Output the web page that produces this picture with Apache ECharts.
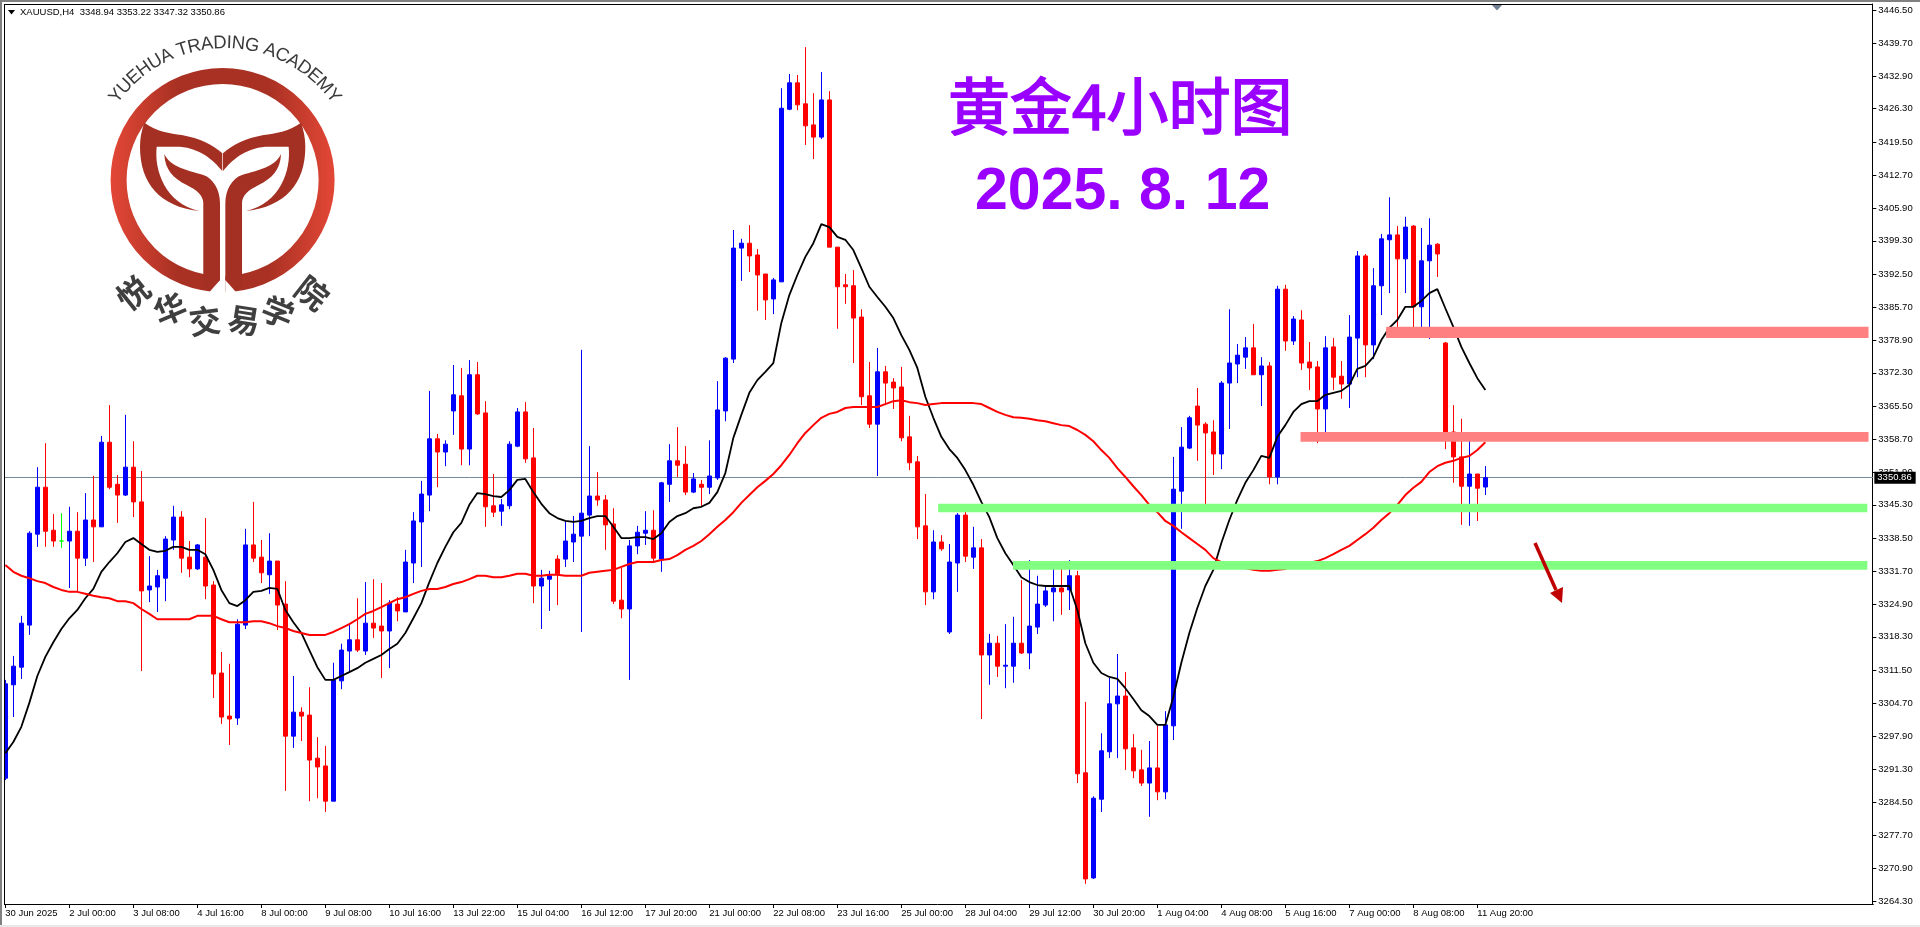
<!DOCTYPE html>
<html><head><meta charset="utf-8">
<style>html,body{margin:0;padding:0;background:#fff}#c{width:1920px;height:927px}</style>
<script src="https://cdn.jsdelivr.net/npm/echarts@6/dist/echarts.min.js"></script>
</head><body><div id="c"></div>
<script>
const tickLabels=['30 Jun 2025','2 Jul 00:00','3 Jul 08:00','4 Jul 16:00','8 Jul 00:00','9 Jul 08:00','10 Jul 16:00','13 Jul 22:00','15 Jul 04:00','16 Jul 12:00','17 Jul 20:00','21 Jul 00:00','22 Jul 08:00','23 Jul 16:00','25 Jul 00:00','28 Jul 04:00','29 Jul 12:00','30 Jul 20:00','1 Aug 04:00','4 Aug 08:00','5 Aug 16:00','7 Aug 00:00','8 Aug 08:00','11 Aug 20:00'];
const priceTicks=[3446.5,3439.7,3432.9,3426.3,3419.5,3412.7,3405.9,3399.3,3392.5,3385.7,3378.9,3372.3,3365.5,3358.7,3351.9,3345.3,3338.5,3331.7,3324.9,3318.3,3311.5,3304.7,3297.9,3291.3,3284.5,3277.7,3270.9,3264.3];
const opens=[3289.4,3308.5,3312.1,3320.7,3339.3,3348.9,3340.1,3337.9,3337.9,3339.9,
3334.4,3342.2,3340.8,3358.1,3349.5,3347.3,3353.0,3345.9,3327.9,3328.5,
3330.3,3338.1,3342.8,3334.6,3332.2,3334.6,3328.9,3310.9,3302.1,3301.7,
3320.7,3337.1,3334.6,3331.0,3333.8,3325.0,3298.0,3302.9,3302.3,3293.5,
3291.9,3284.7,3309.3,3315.4,3317.7,3315.4,3321.1,3320.5,3319.5,3325.0,
3323.4,3333.4,3341.8,3347.3,3358.8,3356.1,3364.5,3367.6,3356.7,3371.9,
3364.1,3345.1,3344.0,3345.1,3357.3,3364.3,3354.9,3328.7,3330.1,3334.2,
3334.2,3337.7,3338.9,3343.2,3347.1,3346.3,3341.4,3325.8,3324.0,3336.9,
3339.5,3340.1,3334.2,3349.5,3354.3,3353.6,3347.9,3349.5,3348.9,3350.8,
3364.5,3375.1,3397.8,3398.8,3396.4,3392.5,3387.4,3390.9,3426.2,3431.6,
3427.3,3423.0,3420.5,3428.1,3398.0,3390.3,3390.1,3383.7,3367.6,3361.8,
3372.5,3370.4,3369.4,3359.2,3354.1,3341.0,3327.5,3337.7,3319.3,3333.4,
3343.2,3334.6,3336.5,3314.6,3317.0,3312.3,3312.3,3317.0,3315.0,3320.3,
3324.8,3327.5,3328.3,3327.9,3330.8,3290.5,3269.0,3285.1,3294.8,3304.6,
3306.2,3295.6,3291.1,3288.4,3291.5,3286.6,3300.1,3348.1,3356.9,3365.5,
3361.8,3360.2,3355.7,3370.2,3374.1,3375.5,3377.4,3371.9,3373.7,3351.0,
3389.4,3378.8,3383.1,3374.5,3373.5,3364.9,3377.6,3371.6,3370.0,3379.4,
3396.2,3378.0,3390.1,3399.5,3400.5,3395.6,3402.3,3385.8,3395.2,3398.6,
3378.4,3360.2,3355.1,3349.1,3351.6,3348.94];
const closes=[3308.7,3312.3,3321.1,3339.5,3348.9,3339.9,3337.9,3337.9,3339.9,3334.4,
3342.2,3340.8,3358.1,3348.9,3347.3,3353.0,3345.9,3327.7,3328.7,3330.8,
3338.3,3342.8,3334.4,3332.2,3337.1,3328.7,3310.7,3301.9,3301.5,3320.9,
3337.1,3334.4,3331.4,3333.8,3324.8,3298.0,3302.9,3302.1,3293.1,3291.7,
3284.7,3309.5,3315.6,3317.7,3315.6,3321.1,3320.1,3319.5,3325.2,3323.6,
3333.6,3342.0,3347.5,3358.8,3356.1,3357.7,3367.8,3356.7,3371.9,3363.9,
3344.9,3343.8,3345.3,3357.7,3364.3,3354.7,3328.7,3330.3,3330.8,3331.2,
3337.9,3339.3,3343.6,3347.1,3346.3,3341.2,3325.6,3324.0,3336.9,3339.7,
3340.1,3334.4,3349.8,3354.3,3353.4,3347.9,3350.6,3348.9,3351.2,3364.7,
3375.3,3397.8,3398.8,3396.2,3392.3,3387.2,3391.3,3426.4,3431.6,3427.1,
3422.8,3420.5,3428.1,3398.0,3389.9,3389.9,3383.5,3367.4,3361.8,3372.5,
3370.2,3369.2,3359.0,3353.9,3340.8,3327.5,3337.7,3336.3,3333.6,3343.2,
3334.8,3336.5,3314.6,3317.0,3312.3,3312.5,3317.0,3315.0,3320.5,3325.0,
3327.7,3328.3,3327.5,3330.8,3290.3,3268.8,3285.3,3295.0,3304.6,3306.2,
3295.4,3290.9,3288.4,3291.5,3286.6,3300.3,3348.5,3357.1,3363.1,3361.6,
3360.0,3355.7,3370.2,3374.3,3375.9,3377.4,3371.9,3373.7,3351.0,3389.4,
3378.8,3383.3,3374.3,3373.3,3364.9,3377.4,3371.4,3370.0,3379.6,3396.2,
3378.0,3390.1,3399.7,3400.5,3395.6,3402.1,3385.8,3395.2,3398.4,3396.6,
3360.0,3355.1,3349.1,3351.6,3348.7,3350.86];
const lows=[3289.0,3301.9,3309.7,3318.7,3336.7,3336.7,3336.7,3336.5,3328.3,3327.5,
3332.8,3333.6,3340.8,3348.5,3341.6,3347.1,3342.8,3311.3,3325.4,3323.4,
3325.6,3336.1,3331.4,3330.5,3332.0,3326.0,3305.8,3300.5,3296.2,3300.3,
3319.9,3333.6,3329.3,3327.1,3319.7,3286.8,3295.6,3297.0,3284.7,3285.3,
3282.5,3284.7,3307.6,3310.9,3315.2,3314.6,3318.1,3309.9,3311.9,3321.5,
3323.4,3329.3,3332.6,3344.0,3348.9,3353.2,3359.6,3353.4,3353.4,3363.7,
3340.8,3342.8,3341.0,3344.4,3357.1,3353.9,3325.2,3319.9,3323.6,3324.8,
3332.6,3333.6,3319.3,3338.9,3345.1,3336.1,3325.0,3322.1,3309.5,3335.2,
3337.1,3333.8,3331.6,3345.9,3351.0,3347.3,3347.7,3345.1,3347.5,3350.4,
3362.4,3374.3,3391.1,3392.9,3385.0,3383.1,3384.3,3390.9,3426.0,3426.0,
3418.9,3416.0,3420.1,3398.0,3381.3,3386.4,3374.3,3365.7,3361.0,3351.2,
3365.7,3364.9,3358.3,3352.4,3338.3,3324.8,3326.0,3335.9,3318.9,3327.5,
3333.6,3332.2,3301.5,3308.5,3310.1,3307.8,3308.9,3314.8,3311.7,3318.9,
3324.4,3321.5,3322.8,3323.8,3288.4,3267.8,3268.8,3282.5,3293.5,3293.5,
3291.1,3289.4,3287.8,3281.5,3284.9,3285.1,3297.2,3340.4,3356.7,3354.3,
3344.9,3351.4,3352.6,3360.8,3370.2,3373.1,3371.9,3365.5,3349.5,3349.5,
3376.8,3378.0,3372.9,3368.8,3357.9,3360.0,3368.8,3367.0,3365.1,3371.4,
3371.4,3375.1,3384.1,3388.6,3380.9,3388.6,3380.2,3380.9,3379.2,3391.9,
3356.7,3349.8,3341.2,3341.0,3342.0,3347.32];
const highs=[3309.5,3314.4,3322.6,3339.9,3353.0,3357.9,3343.4,3343.6,3344.9,3343.8,
3347.7,3351.2,3359.4,3365.7,3351.4,3363.7,3358.3,3352.2,3334.8,3332.0,
3338.9,3345.1,3344.0,3337.9,3337.3,3342.6,3329.7,3315.2,3312.8,3321.9,
3340.4,3345.9,3338.1,3339.5,3333.8,3329.7,3310.3,3303.9,3308.0,3297.8,
3296.0,3313.0,3316.9,3320.7,3326.2,3329.5,3330.1,3329.3,3325.8,3326.4,
3336.1,3343.8,3350.2,3368.6,3359.8,3358.5,3373.9,3373.3,3374.9,3374.5,
3366.5,3351.6,3346.5,3358.3,3365.1,3366.3,3361.0,3332.0,3331.8,3335.0,
3342.0,3343.0,3377.0,3357.3,3352.0,3347.3,3344.6,3332.4,3338.1,3341.0,
3344.0,3344.2,3350.0,3357.7,3361.2,3357.3,3351.8,3350.4,3358.5,3370.6,
3375.5,3401.5,3399.7,3402.5,3397.6,3392.5,3391.7,3430.5,3433.4,3433.2,
3438.9,3429.5,3433.8,3429.9,3398.0,3392.5,3393.3,3385.3,3374.5,3377.4,
3373.7,3371.2,3373.5,3363.5,3355.3,3347.5,3340.1,3339.1,3337.3,3343.6,
3345.3,3340.8,3338.3,3318.9,3318.5,3320.9,3322.4,3329.9,3334.0,3330.8,
3328.9,3333.6,3332.2,3334.0,3331.8,3305.0,3285.7,3298.6,3309.9,3314.8,
3311.1,3298.4,3295.2,3297.0,3300.1,3303.1,3355.1,3361.2,3363.5,3369.2,
3362.2,3362.6,3370.6,3385.3,3378.2,3379.6,3382.3,3375.5,3374.5,3390.1,
3390.3,3383.9,3385.1,3378.6,3374.7,3379.8,3379.4,3374.7,3384.1,3397.2,
3396.6,3393.7,3400.7,3408.2,3402.3,3404.2,3402.5,3401.9,3403.9,3398.8,
3378.6,3365.7,3362.9,3358.8,3351.6,3353.22];
const maFast=[3294.5,3296.8,3299.9,3304.8,3310.3,3314.2,3317.2,3319.9,3322.1,3323.8,
3326.2,3328.1,3331.6,3333.6,3335.4,3337.7,3338.5,3337.3,3336.1,3335.7,
3335.9,3336.7,3336.7,3336.1,3336.1,3335.2,3332.0,3327.9,3325.2,3324.6,
3325.8,3327.5,3327.7,3328.3,3328.1,3323.8,3321.3,3319.1,3315.6,3312.1,
3309.5,3309.5,3310.3,3311.1,3311.9,3313.0,3313.8,3314.6,3315.8,3316.9,
3319.1,3322.1,3325.2,3329.5,3333.4,3336.7,3339.7,3341.6,3345.3,3347.7,
3347.5,3347.1,3346.9,3348.3,3350.4,3350.6,3347.9,3345.5,3343.6,3342.6,
3342.0,3341.8,3342.0,3342.6,3343.0,3343.0,3340.8,3338.5,3338.5,3338.7,
3338.7,3338.3,3339.5,3341.8,3343.0,3343.6,3344.6,3344.9,3345.7,3347.9,
3351.8,3359.0,3363.7,3368.2,3370.8,3372.5,3374.3,3382.5,3388.2,3392.3,
3396.0,3398.8,3402.7,3402.1,3400.1,3399.5,3397.4,3393.7,3389.9,3387.8,
3385.8,3383.5,3380.0,3377.0,3373.3,3367.4,3363.1,3359.2,3356.7,3354.9,
3352.4,3349.4,3345.9,3342.8,3338.5,3335.4,3333.0,3330.5,3329.5,3328.9,
3328.7,3328.7,3328.7,3328.7,3323.8,3317.0,3313.0,3310.9,3310.1,3309.7,
3307.8,3305.6,3303.3,3302.1,3300.3,3300.3,3306.0,3313.0,3319.1,3324.2,
3328.7,3332.0,3337.5,3342.2,3346.3,3349.8,3352.4,3355.3,3354.9,3359.2,
3361.6,3364.3,3365.9,3366.5,3366.5,3367.8,3368.2,3368.6,3369.8,3373.1,
3373.7,3375.5,3379.0,3381.5,3383.1,3385.8,3385.8,3387.0,3388.6,3389.4,
3385.5,3381.7,3377.6,3374.3,3371.2,3368.8];
const maSlow=[3333.0,3331.6,3330.8,3330.3,3329.7,3329.3,3328.5,3327.9,3327.5,3327.5,
3327.1,3326.7,3326.4,3326.2,3325.6,3325.6,3325.2,3324.0,3323.0,3321.9,
3321.9,3321.9,3321.9,3321.9,3322.6,3322.6,3322.6,3321.9,3321.3,3321.3,
3321.3,3321.5,3321.5,3321.1,3320.5,3320.1,3319.5,3319.1,3318.7,3318.7,
3318.7,3319.3,3320.1,3320.9,3321.9,3323.0,3323.6,3324.4,3325.2,3326.0,
3326.4,3327.1,3327.7,3328.1,3328.1,3328.5,3329.1,3329.5,3330.1,3330.8,
3330.8,3330.5,3330.5,3330.8,3331.2,3331.2,3330.8,3330.8,3331.0,3331.0,
3330.8,3330.8,3330.8,3331.4,3331.6,3331.8,3332.0,3332.6,3333.2,3333.6,
3333.6,3333.6,3334.0,3334.2,3335.0,3336.1,3336.9,3337.9,3339.3,3340.8,
3342.2,3343.8,3345.7,3347.3,3348.9,3350.2,3351.6,3353.4,3355.5,3357.9,
3360.0,3361.6,3363.1,3363.9,3364.3,3365.1,3365.3,3365.3,3365.3,3365.3,
3365.9,3366.5,3366.7,3366.3,3366.1,3365.7,3365.9,3366.1,3366.1,3366.1,
3366.1,3366.1,3365.9,3365.1,3364.3,3363.7,3363.2,3363.1,3362.9,3362.6,
3362.4,3362.0,3361.6,3361.4,3360.6,3359.6,3358.3,3356.5,3354.9,3352.8,
3351.0,3349.1,3347.3,3345.3,3343.8,3342.0,3341.0,3339.7,3338.5,3337.3,
3336.1,3334.4,3333.6,3332.8,3332.6,3332.4,3332.0,3331.8,3331.8,3332.0,
3332.2,3332.8,3333.0,3333.4,3333.8,3334.4,3335.2,3336.1,3336.9,3338.1,
3339.3,3340.6,3342.2,3343.6,3345.3,3347.3,3348.8,3350.0,3352.0,3353.2,
3353.9,3354.3,3354.9,3355.3,3356.5,3358.1];
const lastPrice=3350.86;
// horizontal zones: bar position where each starts / ends, and price band
const zoneStart=[172.6,161.9,116.6,125.96];
const zoneEnd=[232.9,232.9,232.75,232.75];
const zoneHigh=[3381.7,3360.2,3345.5,3333.8];
const zoneLow=[3379.4,3358.2,3343.8,3332.0];
const zoneColor=['#FF8080','#FF8080','#80FF80','#80FF80'];

const AXISFONT='"Liberation Sans",sans-serif';
const slotCount=234;
const categories=Array.from({length:slotCount},(_,i)=>i%8===0&&tickLabels[i/8]?tickLabels[i/8]:'');
const showTick=i=>i%8===0&&i/8<tickLabels.length;
const candles=opens.map((o,i)=>[o,closes[i],lows[i],highs[i]]);

// logo helpers
const LOGO='#A33022';
const ringGrad={type:'linear',x:0,y:0,x2:1,y2:0,colorStops:[{offset:0,color:'#E34736'},{offset:.3,color:'#A83123'},{offset:.7,color:'#A83123'},{offset:1,color:'#E34736'}]};
const wing='M144.3 122.7C156.7 131.7 170 133.3 181.7 135C200 138.3 213.3 145 222.3 153.3L222.3 171C213.3 160 200 148.3 180 146.7L156.7 146.7C154 170 165 203.3 199.3 211C160 206.7 140 183.3 140 146.7C140 138.3 141.7 130 144.3 122.7Z';
const leaf='M164.3 154C170 166.7 186.7 170 203.3 175C213.3 178.3 220 190 220 203.3L220 280L208.3 291L203.3 285L203.3 203.3C203.3 195 196.7 190 186.7 185C173.3 178.3 165 170 164.3 154Z';
echarts.graphic.registerShape('logoWing',echarts.graphic.extendPath(wing,{}));
echarts.graphic.registerShape('logoLeaf',echarts.graphic.extendPath(leaf,{}));
const logoEls=[
 {type:'circle',shape:{cx:222.6,cy:180,r:104},style:{fill:'none',stroke:ringGrad,lineWidth:16}},
 {type:'rect',shape:{x:220,y:268,width:5.4,height:30},style:{fill:'#fff'}},
 {type:'polygon',shape:{points:[[220,280],[220,296],[206,296]]},style:{fill:'#fff'}},
 {type:'polygon',shape:{points:[[225.4,280],[225.4,296],[239.4,296]]},style:{fill:'#fff'}},
 {type:'logoWing',style:{fill:LOGO}},
 {type:'logoLeaf',style:{fill:LOGO}},
 {type:'logoWing',x:445.33,scaleX:-1,style:{fill:LOGO}},
 {type:'logoLeaf',x:445.33,scaleX:-1,style:{fill:LOGO}}
];
// arc lettering
(function(){
 const txt='YUEHUA TRADING ACADEMY',font='18.5px "Liberation Sans",sans-serif';
 const ctx=document.createElement('canvas').getContext('2d');ctx.font=font;
 const total=ctx.measureText(txt).width,R=137;
 let run=0;
 for(const ch of txt){const w=ctx.measureText(ch).width;
  const a=(run+w/2-total/2)/R;run+=w;
  logoEls.push({type:'text',x:225+R*Math.sin(a),y:180-R*Math.cos(a),rotation:-a,
   style:{text:ch,font:font,fill:'#3A3A3A',align:'center',verticalAlign:'middle'}});}
 const cn=[['悦',133,293,39],['华',170,309,23],['交',205,321,7],['易',244,320,-9],['学',278,312,-22],['院',312,293,-38]];
 cn.forEach(c=>logoEls.push({type:'text',x:c[1],y:c[2],rotation:c[3]*Math.PI/180,
  style:{text:c[0],font:'bold 32px "Noto Sans CJK SC",sans-serif',fill:'#3F3F3F',align:'center',verticalAlign:'middle'}}));
})();

const chart=echarts.init(document.getElementById('c'),null,{renderer:'canvas'});
// a category axis rounds fractional positions, so step between neighbouring slots
function slotX(api,pos,price){
 const f=Math.floor(pos),a=api.coord([f,price]),b=api.coord([f+1,price]);
 return [a[0]+(b[0]-a[0])*(pos-f),a[1]];
}
chart.setOption({
 animation:false,backgroundColor:'#fff',
 grid:{left:1.333,top:4,width:1872,height:900,containLabel:false},
 xAxis:{type:'category',data:categories,boundaryGap:true,
  axisLine:{lineStyle:{color:'#000',width:1}},
  axisTick:{show:true,interval:i=>showTick(i),alignWithLabel:true,length:4,lineStyle:{color:'#000'}},
  axisLabel:{interval:i=>showTick(i),align:'left',margin:4,color:'#000',fontFamily:AXISFONT,fontSize:9.5,hideOverlap:false},
  splitLine:{show:false}},
 yAxis:{type:'value',position:'right',offset:-1,min:3263.67,max:3447.72,scale:true,
  axisLine:{show:true,lineStyle:{color:'#000',width:1}},
  axisTick:{show:true,length:4,customValues:priceTicks,lineStyle:{color:'#000'}},
  axisLabel:{customValues:priceTicks,margin:6,align:'left',color:'#000',fontFamily:AXISFONT,fontSize:9.5,formatter:v=>v.toFixed(2),showMinLabel:true,showMaxLabel:true},
  splitLine:{show:false}},
 series:[
  {type:'candlestick',name:'XAUUSD',data:candles,barWidth:5,z:3,
   itemStyle:{color:'#0000FF',color0:'#FF0000',borderColor:'#0000FF',borderColor0:'#FF0000',borderColorDoji:'#00FF00',borderWidth:1},
   markLine:{silent:true,symbol:'none',z:2,animation:false,
    lineStyle:{color:'#778899',width:1,type:'solid'},
    label:{show:true,position:'end',distance:1,formatter:()=>lastPrice.toFixed(2),backgroundColor:'#000',color:'#fff',fontFamily:AXISFONT,fontSize:9.5,padding:[1,4,1,3]},
    data:[{yAxis:lastPrice}]}},
  {type:'line',name:'MA fast',data:maFast,showSymbol:false,symbol:'none',z:4,lineStyle:{color:'#000',width:1.8},clip:true},
  {type:'line',name:'MA slow',data:maSlow,showSymbol:false,symbol:'none',z:4,lineStyle:{color:'#FF0000',width:2},clip:true},
  {type:'custom',name:'zones',z:6,coordinateSystem:'cartesian2d',data:zoneStart.map((_,i)=>i),encode:{x:-1,y:-1},
   renderItem:(p,api)=>{const i=p.dataIndex;
    const a=slotX(api,zoneStart[i],zoneHigh[i]),b=slotX(api,zoneEnd[i],zoneLow[i]);
    return {type:'rect',shape:{x:a[0],y:a[1],width:b[0]-a[0],height:b[1]-a[1]},style:{fill:zoneColor[i],blend:'multiply'}};}}
 ],
 graphic:{elements:[
  ...logoEls,
  {type:'text',x:20,y:12,style:{text:'XAUUSD,H4  3348.94 3353.22 3347.32 3350.86',font:'9.5px '+AXISFONT,fill:'#000',align:'left',verticalAlign:'middle'}},
  {type:'polygon',shape:{points:[[8,10],[15,10],[11.5,14.5]]},style:{fill:'#000'}},
  {type:'polygon',shape:{points:[[1491,4],[1503,4],[1497,10.5]]},style:{fill:'#708090'}},
  {type:'text',x:948,y:106,z:20,style:{text:'黄金4小时图',font:'normal 62px "Noto Sans CJK SC",sans-serif',fill:'#9900FF',stroke:'#9900FF',lineWidth:1.6,align:'left',verticalAlign:'middle'}},
  {type:'text',x:975,y:193,z:20,style:{text:'2025. 8. 12',font:'bold 59px "Liberation Sans",sans-serif',fill:'#9900FF',align:'left',verticalAlign:'middle'}},
  {type:'line',z:20,shape:{x1:1535,y1:543,x2:1556,y2:590},style:{stroke:'#C00000',lineWidth:3.5}},
  {type:'polygon',z:20,shape:{points:[[1562,603],[1550,593],[1563,587]]},style:{fill:'#C00000'}},
  {type:'rect',z:30,shape:{x:0,y:0,width:4,height:927},style:{fill:'#fff'}},
  {type:'rect',z:31,shape:{x:0,y:0,width:2,height:925},style:{fill:'#808080'}},
  {type:'rect',z:31,shape:{x:0,y:0,width:1920,height:2},style:{fill:'#808080'}},
  {type:'rect',z:31,shape:{x:4,y:4,width:1,height:900},style:{fill:'#000'}},
  {type:'rect',z:31,shape:{x:4,y:4,width:1868,height:1},style:{fill:'#000'}},
  {type:'rect',z:31,shape:{x:0,y:925,width:1920,height:2},style:{fill:'#E8E8E8'}}
 ]}
});
</script></body></html>
